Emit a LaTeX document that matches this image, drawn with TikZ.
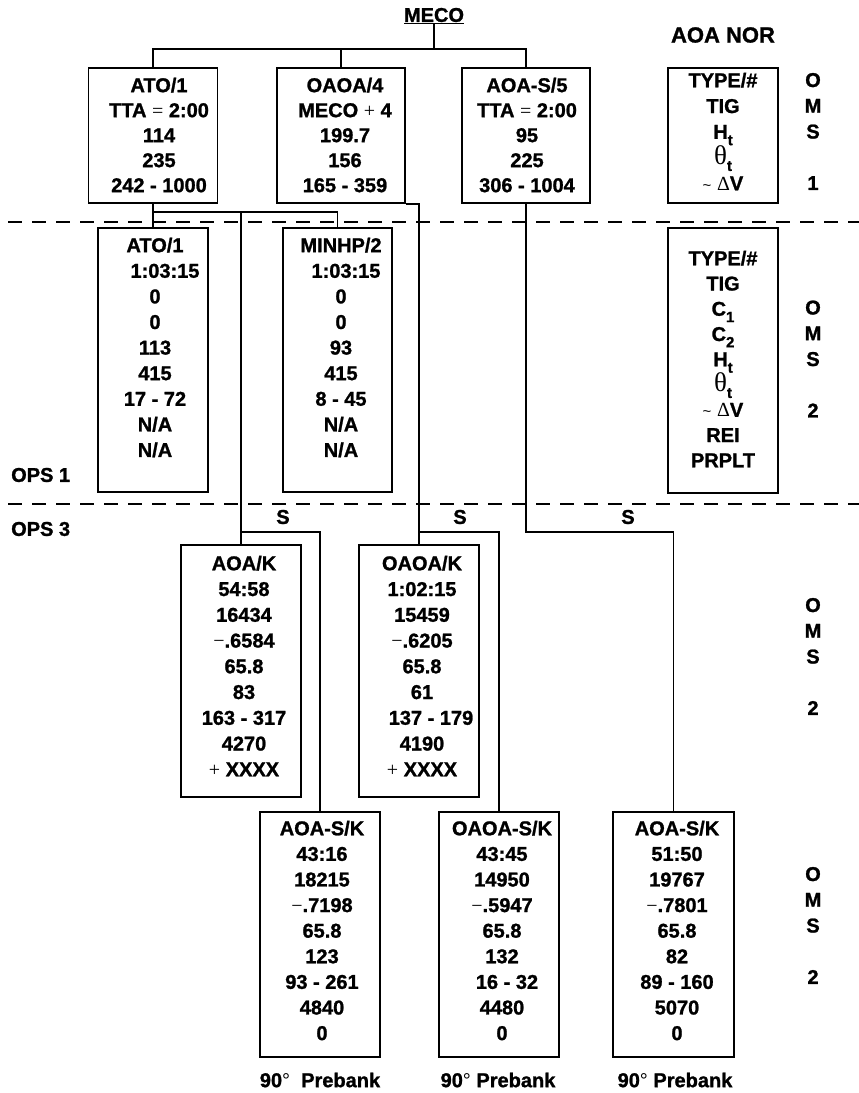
\documentclass[tikz,border=0pt]{standalone}
\usepackage{fontspec}
\setmainfont{Liberation Sans}[BoldFeatures={FakeBold=1.2}]
\newfontfamily\grk{Liberation Serif}
\newcommand\rowfont[1]{\fontsize{20}{#1}\selectfont\bfseries\lineskiplimit=-40pt\lineskip=0pt\relax}
\newcommand\lblfont{\fontsize{20}{25.75}\selectfont\bfseries\lineskiplimit=-40pt\lineskip=0pt\relax}
\newcommand\dn[1]{\raisebox{-0.32em}{\fontsize{15}{15}\selectfont\bfseries #1}}
\newcommand\thet{{\grk\mdseries\fontsize{27}{27}\selectfont θ}\dn{t}}
\newcommand\dv{{\mdseries\fontsize{15}{15}\selectfont\textasciitilde}\ {\grk\mdseries Δ}V}
\newcommand\mn{{\grk\mdseries −}}
\newcommand\pl{{\grk\mdseries +}}
\newcommand\eq{{\grk\mdseries =}}
\tikzset{
  box/.style={draw, line width=1.6pt, inner sep=0pt},
  txt/.style={align=center, inner sep=0pt, font=\rowfont{25.6}},
  conn/.style={line width=1.6pt},
  sep/.style={line width=1.6pt, dash pattern=on 14pt off 10pt},
  lbl/.style={inner sep=0pt, font=\lblfont, align=center}
}
\begin{document}
\begin{tikzpicture}[x=1pt,y=-1pt]
\useasboundingbox (0,0) rectangle (859,1093);

% headings
\node[inner sep=0pt, font=\fontsize{20}{20}\selectfont\bfseries] (meco) at (434,16) {\underline{MECO}};
\node[inner sep=0pt, font=\fontsize{22}{22}\selectfont\bfseries] (nor) at (723,35) {AOA NOR};

% separators
\draw[sep] (8,222) -- (859,222);
\draw[sep] (8,504) -- (859,504);
\node[lbl, anchor=west] (ops1) at (11,475) {OPS 1};
\node[lbl, anchor=west] (ops3) at (11,529) {OPS 3};

% top row boxes
\node[box, minimum width=129pt, minimum height=135pt] (ato1) at (153,135.5) {};
\node[txt, font=\rowfont{25}] (ato1t) at (159,135) {ATO/1\\TTA \eq\ 2:00\\114\\235\\242 - 1000};
\node[box, minimum width=128pt, minimum height=135pt] (oaoa4) at (341,135.5) {};
\node[txt, font=\rowfont{25}] (oaoa4t) at (345,135) {OAOA/4\\MECO \pl\ 4\\199.7\\156\\165 - 359};
\node[box, minimum width=128pt, minimum height=135pt] (aoas5) at (526,135.5) {};
\node[txt, font=\rowfont{25}] (aoas5t) at (527,135) {AOA-S/5\\TTA \eq\ 2:00\\95\\225\\306 - 1004};
\node[box, minimum width=110pt, minimum height=135pt] (nor1) at (723,135.5) {};
\node[txt, font=\rowfont{25.75}] (nor1t) at (723,131.5) {TYPE/\#\\TIG\\H\dn{t}\\\thet\\\dv};
\node[lbl] (oms1) at (813,131.5) {O\\M\\S\\\mbox{}\\1};

% second row boxes
\node[box, minimum width=110pt, minimum height=264pt] (ato1b) at (153,360) {};
\node[txt] (ato1bt) at (155,347.5) {ATO/1\\\hspace*{20pt}1:03:15\\0\\0\\113\\415\\17 - 72\\N/A\\N/A};
\node[box, minimum width=109pt, minimum height=264pt] (minhp) at (337.5,360) {};
\node[txt] (minhpt) at (341,347.5) {MINHP/2\\\hspace*{10pt}1:03:15\\0\\0\\93\\415\\8 - 45\\N/A\\N/A};
\node[box, minimum width=110pt, minimum height=265pt] (nor2) at (723,360.5) {};
\node[txt, font=\rowfont{25.25}] (nor2t) at (723,359) {TYPE/\#\\TIG\\C\dn{1}\\C\dn{2}\\H\dn{t}\\\thet\\\dv\\REI\\PRPLT};
\node[lbl] (oms2) at (813,359) {O\\M\\S\\\mbox{}\\2};

% third row boxes
\node[box, minimum width=120pt, minimum height=252pt] (aoak) at (241,671) {};
\node[txt, font=\rowfont{25.75}] (aoakt) at (244,666) {AOA/K\\54:58\hspace*{10pt}\\16434\\\mn.6584\\65.8\\83\\163 - 317\\4270\\\pl\ XXXX};
\node[box, minimum width=120pt, minimum height=252pt] (oaoak) at (419,671) {};
\node[txt, font=\rowfont{25.75}] (oaoakt) at (422,666) {OAOA/K\\1:02:15\\15459\\\mn.6205\\65.8\\61\\\hspace*{18pt}137 - 179\\4190\\\pl\ XXXX};
\node[lbl] (oms3) at (813,656.5) {O\\M\\S\\\mbox{}\\2};

% bottom row boxes
\node[box, minimum width=120pt, minimum height=245pt] (aoask1) at (320,934.5) {};
\node[txt] (aoask1t) at (322,930.5) {AOA-S/K\\43:16\\18215\\\mn.7198\\65.8\\123\\93 - 261\\4840\\0};
\node[box, minimum width=120pt, minimum height=245pt] (oaosk) at (499,934.5) {};
\node[txt] (oaoskt) at (502,930.5) {OAOA-S/K\\43:45\\14950\\\mn.5947\\65.8\\132\\\hspace*{10pt}16 - 32\\4480\\0};
\node[box, minimum width=121pt, minimum height=245pt] (aoask3) at (673.5,934.5) {};
\node[txt] (aoask3t) at (677,930.5) {AOA-S/K\\51:50\\19767\\\mn.7801\\65.8\\82\\89 - 160\\5070\\0};
\node[lbl] (oms4) at (813,925.5) {O\\M\\S\\\mbox{}\\2};

% prebank labels
\node[lbl] (pb1) at (320,1080) {90{\mdseries°}\ \ Prebank};
\node[lbl] (pb2) at (498,1080) {90{\mdseries°} Prebank};
\node[lbl] (pb3) at (675,1080) {90{\mdseries°} Prebank};

% S labels
\node[lbl] (sa) at (283,517) {S};
\node[lbl] (sb) at (460,517) {S};
\node[lbl] (sc) at (628,517) {S};

% connectors
\coordinate (bus) at (434,49);
\coordinate (j1) at (153,212);
\coordinate (s1) at (241,532);
\draw[conn] (meco.south) -- (bus);
\draw[conn] (ato1.north) |- (bus) -| (aoas5.north);
\draw[conn] (oaoa4.north) -- (oaoa4.north |- bus);
\draw[conn] (ato1.south) -- (ato1b.north);
\draw[conn] (j1) -| (minhp.north);
\draw[conn] (aoak.north |- j1) -- (aoak.north);
\draw[conn] (aoak.north |- s1) -| (aoask1.north);
\draw[conn] (oaoa4.south east) -- (oaoa4.south east -| oaoak.north) -- (oaoak.north);
\draw[conn] (oaoak.north |- s1) -| (oaosk.north);
\draw[conn] (aoas5.south) -- (aoas5.south |- s1) -| (aoask3.north);
\end{tikzpicture}
\end{document}
